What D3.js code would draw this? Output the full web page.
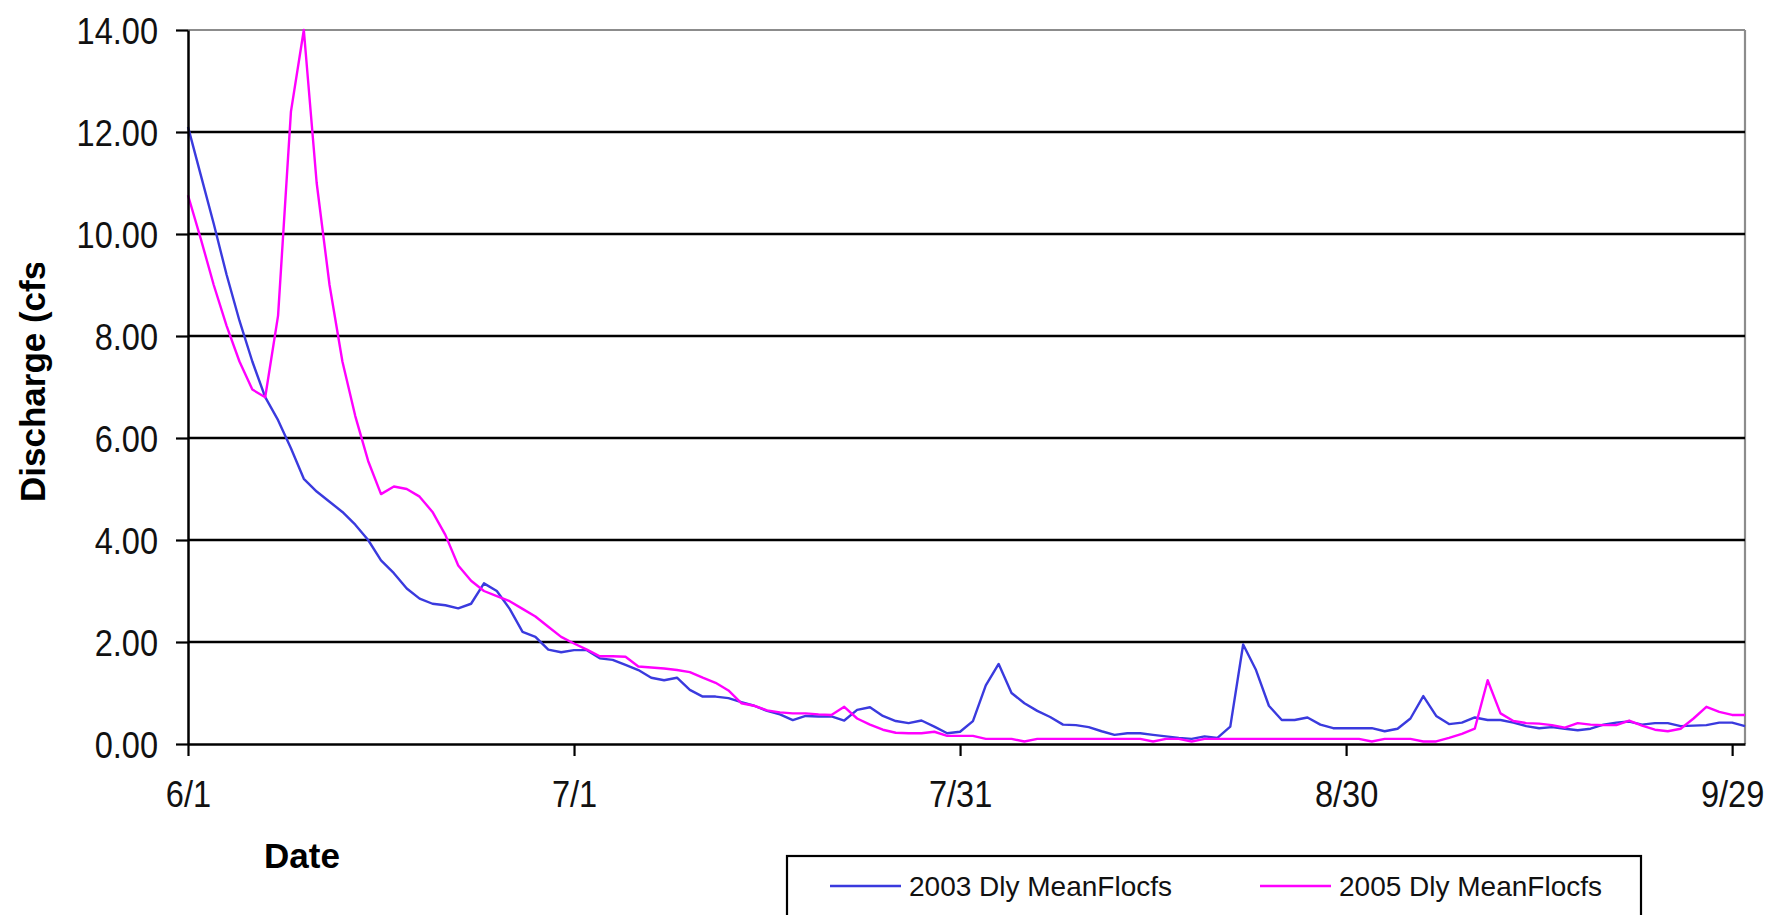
<!DOCTYPE html>
<html>
<head>
<meta charset="utf-8">
<script src="https://cdnjs.cloudflare.com/ajax/libs/d3/7.8.5/d3.min.js"></script>
<style>
  html, body { margin: 0; padding: 0; background: #fff; }
  svg { display: block; font-family: "Liberation Sans", Arial, sans-serif; }
</style>
</head>
<body>
<svg id="chart" width="1766" height="915"></svg>
<script>
// Daily mean discharge (cfs), 1 June - 30 September
const seriesNames = ["2003 Dly MeanFlocfs", "2005 Dly MeanFlocfs"];
const seriesColors = ["#3a3ade", "#ff00ff"];

const flow2003 = [
  12.1, 11.15, 10.2, 9.2, 8.3, 7.5, 6.8, 6.35, 5.8, 5.2,
  4.95, 4.75, 4.55, 4.3, 4.0, 3.6, 3.35, 3.05, 2.85, 2.75,
  2.72, 2.66, 2.75, 3.15, 3.0, 2.65, 2.2, 2.1, 1.85, 1.8,
  1.84, 1.84, 1.68, 1.65, 1.55, 1.45, 1.3, 1.25, 1.3, 1.06,
  0.93, 0.93, 0.9, 0.82, 0.75, 0.65, 0.58, 0.47, 0.55, 0.54,
  0.54, 0.46, 0.67, 0.72, 0.55, 0.45, 0.41, 0.46, 0.34, 0.21,
  0.24, 0.45, 1.15, 1.57, 1.0, 0.8, 0.65, 0.53, 0.38, 0.37,
  0.33, 0.25, 0.18, 0.21, 0.21, 0.18, 0.15, 0.12, 0.1, 0.15,
  0.12, 0.34, 1.95, 1.45, 0.75, 0.47, 0.47, 0.52, 0.38, 0.31,
  0.31, 0.31, 0.31, 0.25, 0.3, 0.5, 0.94, 0.55, 0.39, 0.42,
  0.52, 0.47, 0.47, 0.42, 0.35, 0.31, 0.33, 0.3, 0.27, 0.3,
  0.38, 0.42, 0.44, 0.38, 0.41, 0.41, 0.35, 0.36, 0.37, 0.42,
  0.42, 0.35
];

const flow2005 = [
  10.76, 9.9, 9.0, 8.2, 7.5, 6.95, 6.8, 8.4, 12.4, 14.0,
  11.0, 9.0, 7.5, 6.43, 5.55, 4.9, 5.05, 5.0, 4.85, 4.55,
  4.1, 3.5, 3.2, 3.0, 2.9, 2.8, 2.65, 2.5, 2.3, 2.1,
  1.97, 1.85, 1.72, 1.72, 1.71, 1.52, 1.5, 1.48, 1.45, 1.41,
  1.3, 1.2, 1.05, 0.8, 0.75, 0.66, 0.62, 0.6, 0.6, 0.58,
  0.57, 0.73, 0.5, 0.38, 0.28, 0.22, 0.21, 0.21, 0.24, 0.16,
  0.16, 0.16, 0.1, 0.1, 0.1, 0.05, 0.1, 0.1, 0.1, 0.1,
  0.1, 0.1, 0.1, 0.1, 0.1, 0.05, 0.1, 0.1, 0.05, 0.1,
  0.1, 0.1, 0.1, 0.1, 0.1, 0.1, 0.1, 0.1, 0.1, 0.1,
  0.1, 0.1, 0.05, 0.1, 0.1, 0.1, 0.05, 0.05, 0.12, 0.2,
  0.3, 1.25, 0.6, 0.45, 0.41, 0.4, 0.37, 0.32, 0.41, 0.38,
  0.37, 0.37, 0.46, 0.36, 0.28, 0.25, 0.3, 0.5, 0.73, 0.63,
  0.57, 0.57
];

// Date categories: one per day from 6/1 through 9/30
const dates = d3.timeDays(new Date(2003, 5, 1), new Date(2003, 9, 1));

const xTickDates = ["6/1", "7/1", "7/31", "8/30", "9/29"];
const yTickValues = [0, 2, 4, 6, 8, 10, 12, 14];

const svg = d3.select("#chart");
const plot = { left: 188, top: 30, right: 1745, bottom: 744 };

const x = d3.scaleTime()
  .domain([dates[0], dates[dates.length - 1]])
  .range([plot.left, plot.right]);
const y = d3.scaleLinear()
  .domain([0, 14])
  .range([plot.bottom, plot.top]);

svg.append("rect").attr("width", 1766).attr("height", 915).attr("fill", "#fff");

// Plot frame: light top and right edges
svg.append("line")
  .attr("x1", plot.left).attr("x2", plot.right)
  .attr("y1", y(14)).attr("y2", y(14))
  .attr("stroke", "#8c8c8c").attr("stroke-width", 2.2);
svg.append("line")
  .attr("x1", plot.right).attr("x2", plot.right)
  .attr("y1", plot.top).attr("y2", plot.bottom)
  .attr("stroke", "#8c8c8c").attr("stroke-width", 2.2);

// Horizontal gridlines
svg.append("g")
  .selectAll("line")
  .data(yTickValues.filter(v => v > 0 && v < 14))
  .join("line")
  .attr("x1", plot.left).attr("x2", plot.right)
  .attr("y1", d => y(d)).attr("y2", d => y(d))
  .attr("stroke", "#000").attr("stroke-width", 2.5);

// Series lines
const seriesData = [flow2003, flow2005];
const line = d3.line()
  .x((d, i) => x(dates[i]))
  .y(d => y(d));

svg.append("g")
  .selectAll("path")
  .data(seriesData)
  .join("path")
  .attr("d", d => line(d))
  .attr("fill", "none")
  .attr("stroke", (d, i) => seriesColors[i])
  .attr("stroke-width", 2.4)
  .attr("stroke-linejoin", "round");

// Axes
const parseTick = d3.timeParse("%m/%d/%Y");
const xTickValues = xTickDates.map(s => parseTick(s + "/2003"));

const xAxis = svg.append("g")
  .attr("transform", `translate(0,${plot.bottom})`)
  .call(d3.axisBottom(x)
    .tickValues(xTickValues)
    .tickFormat(d3.timeFormat("%-m/%-d"))
    .tickSizeInner(12).tickSizeOuter(0));

const yAxis = svg.append("g")
  .attr("transform", `translate(${plot.left},0)`)
  .call(d3.axisLeft(y)
    .tickValues(yTickValues)
    .tickFormat(d3.format(".2f"))
    .tickSizeInner(12).tickSizeOuter(0));

[xAxis, yAxis].forEach(g => {
  g.select(".domain").attr("stroke", "#000").attr("stroke-width", 2.5);
  g.selectAll(".tick line").attr("stroke", "#000").attr("stroke-width", 2.2);
  g.selectAll(".tick text")
    .attr("fill", "#111")
    .style("font-size", "37px");
});

// Slightly condensed tick labels
xAxis.selectAll(".tick text")
  .attr("y", 0).attr("dy", 0)
  .attr("transform", "translate(0,63) scale(0.88,1)");
yAxis.selectAll(".tick text")
  .attr("x", 0).attr("dy", "0.36em")
  .attr("transform", "translate(-30,0) scale(0.88,1)");

// Axis titles
svg.append("defs").append("clipPath").attr("id", "ytitle-clip")
  .append("rect").attr("x", 0).attr("y", 263).attr("width", 120).attr("height", 400);

svg.append("g").attr("clip-path", "url(#ytitle-clip)")
  .append("text")
  .attr("transform", "translate(45,502) rotate(-90)")
  .attr("text-anchor", "start")
  .style("font-size", "35px").style("font-weight", "bold")
  .attr("fill", "#000")
  .text("Discharge (cfs)");

svg.append("text")
  .attr("x", 302).attr("y", 868)
  .attr("text-anchor", "middle")
  .style("font-size", "35px").style("font-weight", "bold")
  .attr("fill", "#000")
  .text("Date");

// Legend
const legend = svg.append("g");
legend.append("rect")
  .attr("x", 787).attr("y", 856)
  .attr("width", 854).attr("height", 90)
  .attr("fill", "#fff").attr("stroke", "#000").attr("stroke-width", 2.2);

const legendX = [830, 1260];
const entries = legend.selectAll("g.entry")
  .data(seriesNames)
  .join("g")
  .attr("class", "entry")
  .attr("transform", (d, i) => `translate(${legendX[i]},886)`);
entries.append("line")
  .attr("x1", 0).attr("x2", 71)
  .attr("y1", 0).attr("y2", 0)
  .attr("stroke", (d, i) => seriesColors[i])
  .attr("stroke-width", 2.4);
entries.append("text")
  .attr("x", 79).attr("y", 10)
  .style("font-size", "28px")
  .attr("fill", "#111")
  .text(d => d);
</script>
</body>
</html>
